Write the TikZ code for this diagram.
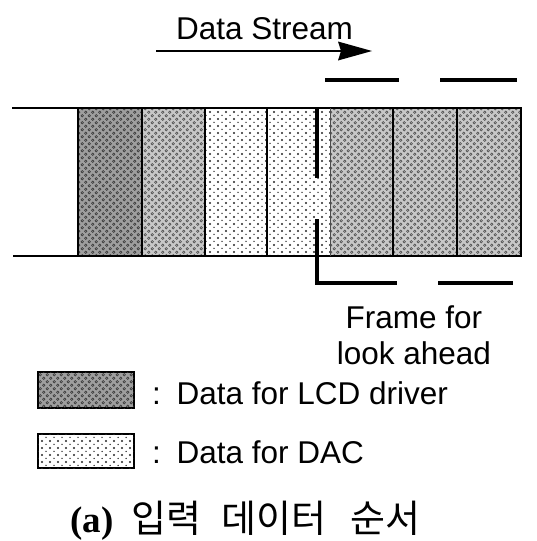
\documentclass[tikz,border=0pt]{standalone}
\usepackage{fontspec}
\setmainfont{Liberation Sans}
\newfontfamily\cjk{Noto Sans CJK KR}
\newfontfamily\capserif{Liberation Serif}
\usetikzlibrary{patterns,arrows.meta}

% small rings on a grey ground: LCD driver data
\pgfdeclarepatternformonly{lcdrings}{\pgfpoint{-1pt}{-1pt}}{\pgfpoint{8pt}{8pt}}{\pgfpoint{7pt}{7pt}}{%
  \pgfsetlinewidth{0.6pt}%
  \pgfpathcircle{\pgfpoint{1.75pt}{1.75pt}}{1.3pt}%
  \pgfpathcircle{\pgfpoint{5.25pt}{5.25pt}}{1.3pt}%
  \pgfusepath{stroke}}
% sparse dots on white: DAC data
\pgfdeclarepatternformonly{dacdots}{\pgfpoint{-1pt}{-1pt}}{\pgfpoint{9pt}{8pt}}{\pgfpoint{8pt}{7pt}}{%
  \pgfpathcircle{\pgfpoint{2pt}{2pt}}{1.1pt}%
  \pgfpathcircle{\pgfpoint{6pt}{5.5pt}}{0.75pt}%
  \pgfusepath{fill}}

\tikzset{
  lcdfill/.style={fill=black!22, postaction={pattern=lcdrings, pattern color=black!72}},
  lcddark/.style={fill=black!38, postaction={pattern=lcdrings, pattern color=black!80}},
  dacfill/.style={fill=white, postaction={pattern=dacdots, pattern color=black!85}},
  edge/.style={line width=1.8pt},
  divider/.style={line width=2.2pt},
  framemark/.style={line width=4.5pt},
  dashmark/.style={line width=4pt},
  flow/.style={line width=2.8pt},
  flowhead/.style={fill=black},
  label/.style={inner sep=0pt, font=\fontsize{31.5}{36}\selectfont},
  legendbox/.style={draw, line width=2pt}
}

\begin{document}
\begin{tikzpicture}[x=1pt,y=-1pt]
\useasboundingbox (0,0) rectangle (537,541);

% data stream heading and arrow
\node[label, anchor=base] (streamtitle) at (264.5,39) {Data Stream};
\coordinate (flowstart) at (156,51);
\coordinate (flowend) at (372,51);
\draw[flow] (flowstart) -- ([xshift=-28pt]flowend);
\fill[flowhead] (flowend) -- ++(-34,-9.5) -- ++(3,9.5) -- ++(-3,9.5) -- cycle;

% data blocks
\fill[lcddark] (78,108) rectangle (142,256);
\fill[lcdfill] (142,108) rectangle (205,256);
\fill[dacfill] (205,108) rectangle (330,256);
\fill[lcdfill] (330,108) rectangle (521,256);

% stream outline
\draw[edge] (12,108) -- (521,108) -- (521,256) -- (13,256);
\draw[edge] (78,108) -- (78,256);
\foreach \xx in {142,393,457} \draw[divider] (\xx,108) -- (\xx,256);
\draw[line width=1.2pt] (205,108) -- (205,256);
\draw[divider] (267,108) -- (267,256);
\draw[line width=0.8pt, black!70] (330,108) -- (330,256);

% look-ahead frame marks
\draw[framemark] (317,108) -- (317,178);
\draw[framemark] (317,219) -- (317,283) -- (397,283);
\draw[dashmark] (438,283) -- (513,283);
\draw[dashmark] (325,80) -- (399,80);
\draw[dashmark] (440,80) -- (517,80);

\node[label, align=center, anchor=base] (framelabel) at (414,364) {Frame for\\look ahead};

% legend
\draw[legendbox, lcddark] (38,372) rectangle (134,408);
\node[label, anchor=base west] (lcdlabel) at (152,404) {:\hspace{4pt} Data for LCD driver};
\draw[legendbox, dacfill] (38,434) rectangle (134,468);
\node[label, anchor=base west] (daclabel) at (152,463) {:\hspace{4pt} Data for DAC};

% caption
\node[inner sep=0pt, anchor=base west] (caption) at (70,532)
  {{\capserif\bfseries\fontsize{37}{40}\selectfont (a)}\hspace{18pt}%
   {\cjk\fontsize{38}{40}\selectfont 입력\hspace{20pt}데이터\hspace{24pt}순서}};
\end{tikzpicture}
\end{document}
